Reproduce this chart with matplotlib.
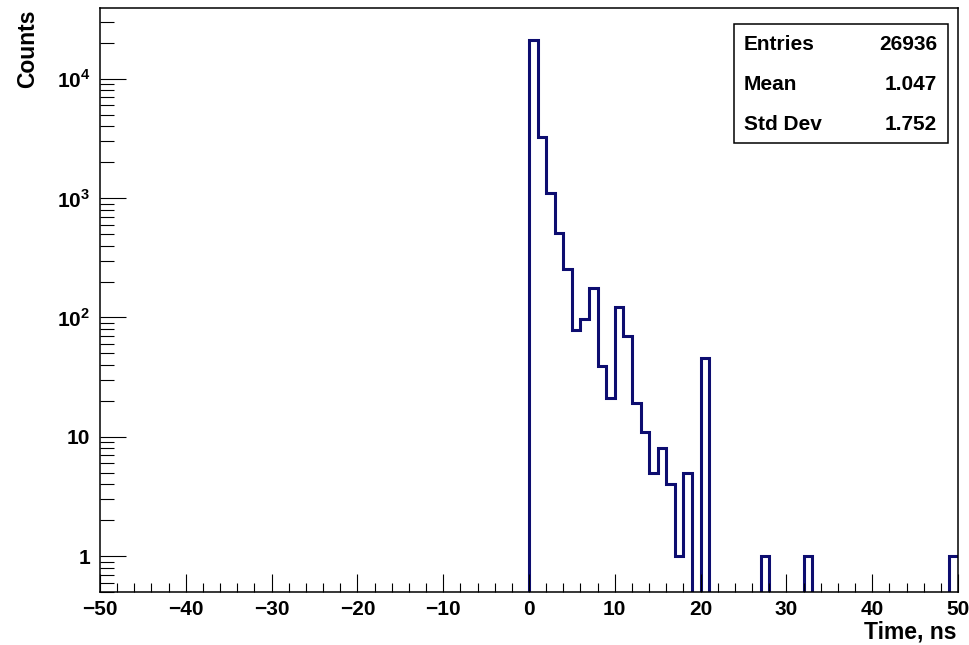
import numpy as np
import matplotlib.pyplot as plt
from matplotlib.patches import Rectangle
from matplotlib.ticker import FixedLocator, FixedFormatter, MultipleLocator, NullFormatter

plt.rcParams['font.family'] = ['Liberation Sans', 'DejaVu Sans']
plt.rcParams['font.weight'] = 'bold'
plt.rcParams['mathtext.fontset'] = 'custom'
plt.rcParams['mathtext.rm'] = 'Liberation Sans:bold'
plt.rcParams['mathtext.bf'] = 'Liberation Sans:bold'
plt.rcParams['axes.unicode_minus'] = True

#-----Data-----#
# 1 ns bins from -50 to 50 ns, only the filled ones listed (lower edges)
binLow = [0, 1, 2, 3, 4, 5, 6, 7, 8, 9, 10, 11, 12, 13, 14, 15, 16, 17, 18, 20, 27, 32, 49]
binCounts = [21000, 3235, 1097, 513, 253, 78, 97, 175, 39, 21, 123, 70, 19, 11, 5, 8, 4, 1, 5, 46, 1, 1, 1]

statNames = ["Entries", "Mean", "Std Dev"]
statValues = ["26936", "1.047", "1.752"]

xTicks = [-50, -40, -30, -20, -10, 0, 10, 20, 30, 40, 50]
yTicks = [1, 10, 100, 1000, 10000]
yTickLabels = ["1", "10", r"$10^{2}$", r"$10^{3}$", r"$10^{4}$"]

edges = np.arange(-50, 51, 1)
counts = np.zeros(len(edges) - 1)
counts[np.array(binLow) + 50] = binCounts

W, H = 969, 645
fig = plt.figure(figsize=(W / 100, H / 100), dpi=100)
ax = fig.add_axes([100 / W, 1 - 592 / H, (958 - 100) / W, (592 - 8) / H])

ax.set_yscale("log", nonpositive="clip")
ax.stairs(counts, edges, baseline=None, color="#0d0d70", linewidth=2.2)

ax.set_xlim(-50, 50)
ax.set_ylim(0.5, 39200)

# ticks
ax.xaxis.set_major_locator(FixedLocator(xTicks))
ax.xaxis.set_minor_locator(MultipleLocator(2))
ax.yaxis.set_major_locator(FixedLocator(yTicks))
ax.yaxis.set_major_formatter(FixedFormatter(yTickLabels))
minorY = [m * 10.0 ** e for e in range(-1, 5) for m in range(2, 10)]
ax.yaxis.set_minor_locator(FixedLocator(minorY))
ax.yaxis.set_minor_formatter(NullFormatter())

ax.tick_params(which="both", direction="in", top=False, right=False, width=0.8, labelsize=15)
ax.tick_params(axis="x", which="major", length=13, pad=6)
ax.tick_params(axis="x", which="minor", length=6.5)
ax.tick_params(axis="y", which="major", length=18.5, pad=7)
ax.tick_params(axis="y", which="minor", length=10)

for s in ax.spines.values():
    s.set_linewidth(1.1)

fig.text(957 / W, 1 - 632 / H, "Time, ns", ha="right", va="center", fontsize=16.5, fontweight="bold")
fig.text(28 / W, 1 - 9 / H, "Counts", ha="center", va="top", rotation=90, fontsize=16.5, fontweight="bold")

# stats box
fig.patches.append(Rectangle((734 / W, 1 - 143 / H), (948 - 734) / W, (143 - 24) / H,
                             transform=fig.transFigure, facecolor="white", edgecolor="black", linewidth=1.1))
for i, (name, value) in enumerate(zip(statNames, statValues)):
    y = 1 - (45 + 39.5 * i) / H
    fig.text(744 / W, y, name, ha="left", va="center", fontsize=15, fontweight="bold")
    fig.text(937 / W, y, value, ha="right", va="center", fontsize=15, fontweight="bold")

fig.savefig("out.png", dpi=100)
